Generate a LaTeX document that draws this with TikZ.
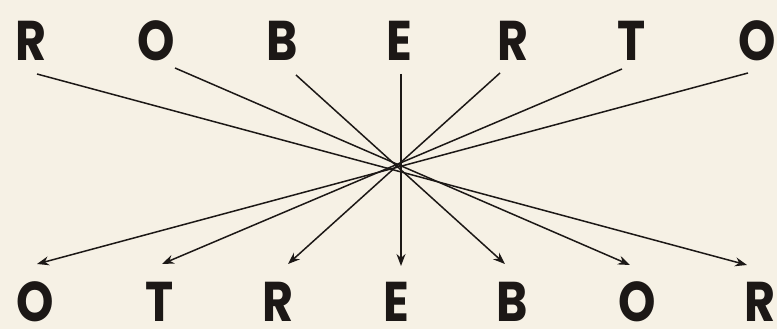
\documentclass[tikz,border=0pt]{standalone}
\usepackage{fontspec}
\setmainfont{Poppins}
\usetikzlibrary{arrows.meta}
\definecolor{paper}{RGB}{246,241,229}
\definecolor{ink}{RGB}{28,24,22}
\begin{document}
\begin{tikzpicture}[x=1pt,y=-1pt,
  letter/.style={inner sep=0pt,anchor=base,text height=39pt,text depth=0pt,text=ink,xscale=0.85,font=\fontsize{56}{56}\selectfont\bfseries},
  link/.style={draw=ink,line width=1.5pt,-{Stealth[length=12pt,width=9pt]}}]
\fill[paper] (0,0) rectangle (777,329);
\useasboundingbox (0,0) rectangle (777,329);
% top word
\node[letter] (a1) at (31,61) {R};
\node[letter] (a2) at (156,61) {O};
\node[letter] (a3) at (282,61) {B};
\node[letter] (a4) at (399,61) {E};
\node[letter] (a5) at (513,61) {R};
\node[letter] (a6) at (632,61) {T};
\node[letter] (a7) at (757,61) {O};
% bottom word
\node[letter] (b1) at (35,321) {O};
\node[letter] (b2) at (160,321) {T};
\node[letter] (b3) at (278,321) {R};
\node[letter] (b4) at (396,321) {E};
\node[letter] (b5) at (512,321) {B};
\node[letter] (b6) at (637,321) {O};
\node[letter] (b7) at (760,321) {R};
% start and end points
\coordinate (s1) at (37,74);
\coordinate (s2) at (175,68);
\coordinate (s3) at (296,75);
\coordinate (s4) at (401,74);
\coordinate (s5) at (500,73);
\coordinate (s6) at (622,69);
\coordinate (s7) at (748,73);
\coordinate (t1) at (37,264);
\coordinate (t2) at (162,264);
\coordinate (t3) at (288,264);
\coordinate (t4) at (401,266);
\coordinate (t5) at (505,264);
\coordinate (t6) at (630,265);
\coordinate (t7) at (747,265);
\draw[link] (s1) -- (t7);
\draw[link] (s2) -- (t6);
\draw[link] (s3) -- (t5);
\draw[link] (s4) -- (t4);
\draw[link] (s5) -- (t3);
\draw[link] (s6) -- (t2);
\draw[link] (s7) -- (t1);
\end{tikzpicture}
\end{document}
